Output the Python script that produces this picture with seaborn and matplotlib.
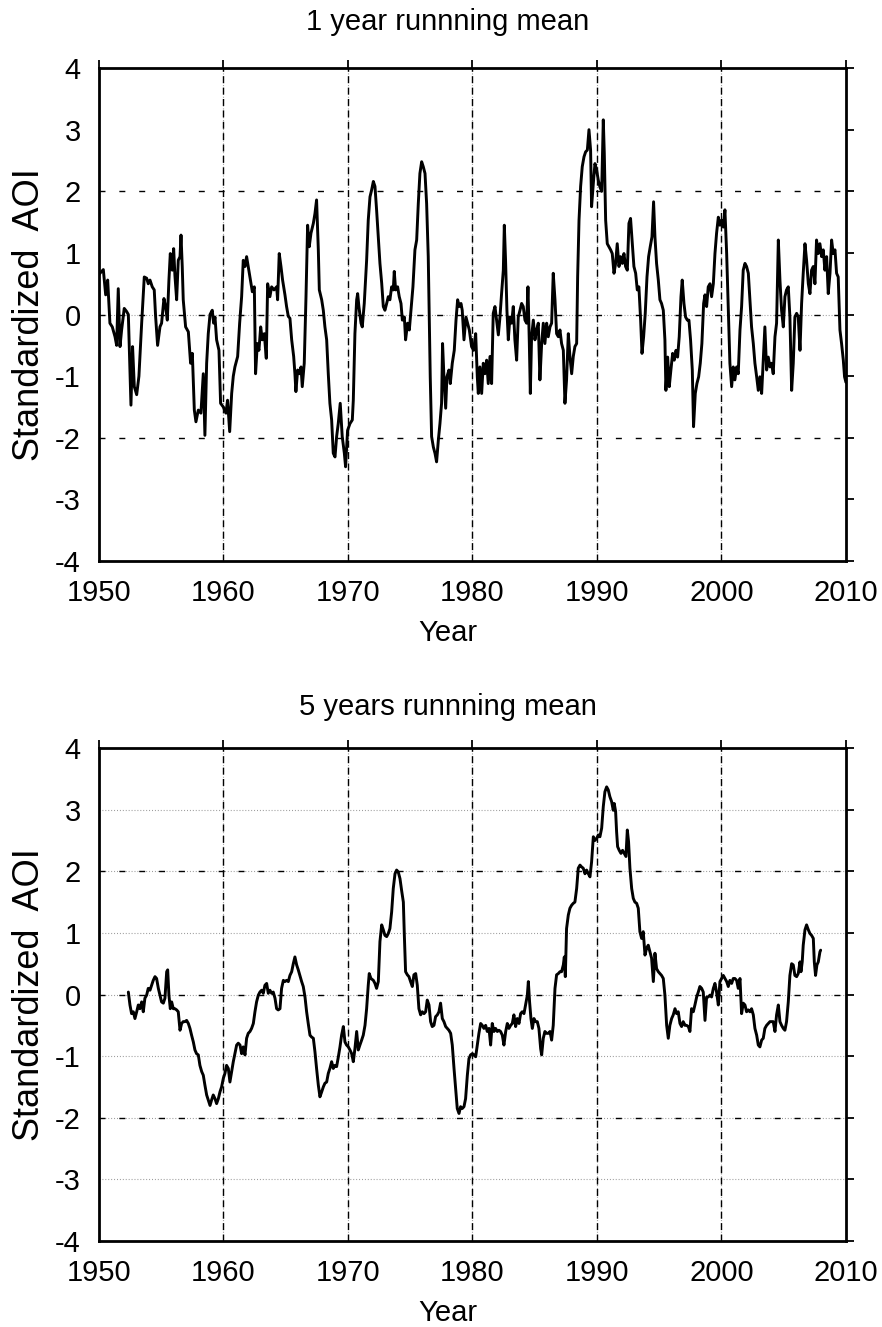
import matplotlib
matplotlib.use("Agg")
import matplotlib.pyplot as plt
import seaborn as sns

# ---------------- data ----------------
year_1yr = [
    1950.00, 1950.08, 1950.35, 1950.54, 1950.70, 1950.88, 1951.07, 1951.29, 1951.42, 1951.55,
    1951.69, 1951.82, 1952.03, 1952.22, 1952.36, 1952.49, 1952.57, 1952.70, 1952.84, 1953.03,
    1953.21, 1953.43, 1953.64, 1953.83, 1953.96, 1954.10, 1954.28, 1954.44, 1954.55, 1954.71,
    1954.90, 1955.03, 1955.22, 1955.35, 1955.49, 1955.62, 1955.73, 1955.89, 1956.00, 1956.10,
    1956.24, 1956.37, 1956.51, 1956.59, 1956.69, 1956.77, 1956.96, 1957.18, 1957.36, 1957.50,
    1957.66, 1957.79, 1957.98, 1958.19, 1958.38, 1958.51, 1958.65, 1958.78, 1958.92, 1959.10,
    1959.21, 1959.32, 1959.45, 1959.64, 1959.77, 1959.99, 1960.20, 1960.33, 1960.50, 1960.66,
    1960.79, 1960.92, 1961.14, 1961.30, 1961.46, 1961.59, 1961.73, 1961.86, 1961.99, 1962.13,
    1962.32, 1962.48, 1962.58, 1962.72, 1962.85, 1962.99, 1963.12, 1963.28, 1963.44, 1963.55,
    1963.73, 1963.87, 1964.06, 1964.27, 1964.35, 1964.48, 1964.62, 1964.75, 1964.94, 1965.07,
    1965.21, 1965.34, 1965.48, 1965.64, 1965.74, 1965.82, 1965.96, 1966.09, 1966.23, 1966.33,
    1966.49, 1966.63, 1966.76, 1966.89, 1967.03, 1967.22, 1967.35, 1967.48, 1967.62, 1967.70,
    1967.89, 1968.02, 1968.15, 1968.29, 1968.42, 1968.55, 1968.69, 1968.82, 1968.96, 1969.09,
    1969.22, 1969.38, 1969.54, 1969.71, 1969.81,
    1969.97, 1970.16, 1970.35, 1970.43, 1970.56, 1970.70, 1970.78, 1970.88, 1971.05, 1971.15,
    1971.31, 1971.50, 1971.63, 1971.77, 1971.90, 1972.04, 1972.17, 1972.30, 1972.44, 1972.57,
    1972.71, 1972.84, 1972.97, 1973.11, 1973.24, 1973.37, 1973.51, 1973.64, 1973.72, 1973.83,
    1973.99, 1974.12, 1974.26, 1974.37, 1974.53, 1974.63, 1974.79, 1974.93, 1975.06, 1975.22,
    1975.38, 1975.52, 1975.65, 1975.78, 1975.92, 1976.05, 1976.19, 1976.32, 1976.45, 1976.53,
    1976.61, 1976.72, 1976.86, 1976.99, 1977.12, 1977.26, 1977.39, 1977.52, 1977.60, 1977.71,
    1977.85, 1977.95, 1978.11, 1978.22, 1978.38, 1978.54, 1978.68, 1978.81, 1978.94, 1979.08,
    1979.18, 1979.32, 1979.48, 1979.61, 1979.75, 1979.93, 1980.09, 1980.26, 1980.39, 1980.47,
    1980.60, 1980.74, 1980.87, 1981.00, 1981.14, 1981.27, 1981.41, 1981.54, 1981.67, 1981.81,
    1981.94, 1982.08, 1982.21, 1982.34, 1982.48, 1982.56, 1982.66, 1982.77, 1982.88, 1983.01,
    1983.15, 1983.28, 1983.41, 1983.55, 1983.68, 1983.82, 1983.95, 1984.08, 1984.22, 1984.35,
    1984.46, 1984.57, 1984.65, 1984.75, 1984.89, 1985.02, 1985.15, 1985.29, 1985.42, 1985.56,
    1985.69, 1985.82, 1985.96, 1986.09, 1986.23, 1986.36, 1986.49, 1986.63, 1986.76, 1986.90,
    1987.03, 1987.16, 1987.30, 1987.43, 1987.56, 1987.70, 1987.83, 1987.97, 1988.10, 1988.23,
    1988.37, 1988.45, 1988.56, 1988.69, 1988.82, 1988.96, 1989.09, 1989.23, 1989.36, 1989.49,
    1989.57, 1989.71,
    1989.84, 1989.97, 1990.11, 1990.24, 1990.38, 1990.51, 1990.59, 1990.70, 1990.83, 1990.96,
    1991.10, 1991.23, 1991.37, 1991.50, 1991.63, 1991.77, 1991.90, 1992.04, 1992.17, 1992.30,
    1992.44, 1992.57, 1992.70, 1992.84, 1992.97, 1993.11, 1993.24, 1993.37, 1993.51, 1993.62,
    1993.75, 1993.88, 1994.02, 1994.15, 1994.28, 1994.42, 1994.55, 1994.66, 1994.79, 1994.93,
    1995.06, 1995.19, 1995.33, 1995.46, 1995.54, 1995.68, 1995.81, 1995.94, 1996.08, 1996.21,
    1996.35, 1996.48, 1996.61, 1996.75, 1996.85, 1996.99, 1997.12, 1997.26, 1997.39, 1997.52,
    1997.66, 1997.76, 1997.90, 1998.03, 1998.17, 1998.30, 1998.43, 1998.57, 1998.68, 1998.81,
    1998.94, 1999.08, 1999.21, 1999.35, 1999.48, 1999.61, 1999.75, 1999.88, 2000.01, 2000.15,
    2000.28, 2000.42, 2000.55, 2000.68, 2000.82, 2000.95, 2001.08, 2001.22, 2001.35, 2001.49,
    2001.62, 2001.75, 2001.89, 2002.02, 2002.16, 2002.29, 2002.42, 2002.56, 2002.69, 2002.83,
    2002.96, 2003.09, 2003.23, 2003.36, 2003.49, 2003.63, 2003.76, 2003.90, 2004.03, 2004.16,
    2004.30, 2004.43, 2004.57, 2004.70, 2004.83, 2004.97, 2005.10, 2005.23, 2005.37, 2005.50,
    2005.64, 2005.77, 2005.90, 2006.04, 2006.17, 2006.31, 2006.44, 2006.57, 2006.71, 2006.84,
    2006.98, 2007.11, 2007.24, 2007.38, 2007.51, 2007.64, 2007.78, 2007.91, 2008.05, 2008.18,
    2008.31, 2008.45, 2008.58, 2008.72, 2008.85, 2008.98, 2009.12, 2009.25, 2009.38, 2009.52,
    2009.65, 2009.79, 2009.89, 2010.00,
]
aoi_1yr = [
    0.65, 0.67, 0.73, 0.32, 0.56, -0.14, -0.20, -0.36, -0.50, 0.42,
    -0.52, -0.25, 0.10, 0.05, 0.00, -0.90, -1.47, -0.52, -1.17, -1.30,
    -1.00, -0.14, 0.61, 0.59, 0.50, 0.56, 0.45, 0.40, -0.03, -0.50,
    -0.20, -0.14, 0.26, 0.13, -0.09, 0.56, 0.99, 0.72, 1.07, 0.64,
    0.24, 0.88, 0.94, 1.29, 0.78, 0.24, -0.20, -0.28, -0.79, -0.63,
    -1.55, -1.74, -1.55, -1.60, -0.96, -1.96, -0.79, -0.31, 0.00, 0.07,
    -0.14, -0.04, -0.41, -0.58, -1.44, -1.50, -1.60, -1.39, -1.90, -1.28,
    -1.00, -0.85, -0.68, -0.14, 0.29, 0.88, 0.78, 0.94, 0.78, 0.61,
    0.37, 0.45, -0.96, -0.47, -0.58, -0.20, -0.41, -0.31, -0.71, 0.50,
    0.29, 0.45, 0.40, 0.45, 0.24, 0.99, 0.78, 0.56, 0.32, 0.13,
    -0.03, -0.06, -0.41, -0.68, -0.96, -1.25, -0.90, -0.96, -0.85, -1.17,
    -0.79, 0.29, 1.45, 1.10, 1.32, 1.48, 1.64, 1.86, 1.05, 0.40,
    0.24, 0.07, -0.20, -0.41, -0.96, -1.44, -1.71, -2.25, -2.31, -1.98,
    -1.77, -1.44, -1.98, -2.25, -2.47,
    -1.88, -1.77, -1.71, -1.39, -0.31, 0.24, 0.34, 0.13, -0.14, -0.20,
    0.18, 0.88, 1.53, 1.91, 2.02, 2.16, 2.08, 1.70, 1.26, 0.83,
    0.51, 0.13, 0.07, 0.18, 0.29, 0.24, 0.45, 0.40, 0.70, 0.40,
    0.45, 0.29, 0.18, -0.09, -0.04, -0.41, -0.14, -0.25, 0.07, 0.45,
    1.05, 1.21, 1.80, 2.29, 2.48, 2.40, 2.29, 1.80, 0.94, -0.04,
    -1.01, -1.98, -2.15, -2.25, -2.39, -2.04, -1.77, -1.44, -0.47, -1.01,
    -1.52, -1.01, -0.90, -1.12, -0.79, -0.58, -0.09, 0.24, 0.13, 0.18,
    0.07, -0.41, -0.04, -0.14, -0.25, -0.52, -0.58, -0.31, -1.01, -1.28,
    -0.85, -1.28, -0.79, -0.96, -0.74, -1.12, -0.68, -1.12, 0.02, 0.13,
    -0.09, -0.33, -0.04, 0.34, 0.72, 1.45, 0.88, 0.07, -0.41, -0.04,
    -0.14, 0.13, -0.41, -0.74, -0.04, 0.07, 0.18, 0.13, -0.09, -0.14,
    0.45, -0.47, -1.28, -0.36, -0.09, -0.41, -0.25, -0.14, -1.06, -0.47,
    -0.14, -0.47, -0.14, -0.36, -0.20, -0.14, 0.67, 0.24, -0.31, -0.36,
    -0.25, -0.47, -0.58, -1.44, -1.06, -0.31, -0.68, -0.96, -0.68, -0.52,
    -0.47, 0.61, 1.53, 2.08, 2.40, 2.56, 2.64, 2.67, 3.00, 2.67,
    1.75, 2.13,
    2.45, 2.35, 2.18, 2.07, 2.00, 3.16, 2.62, 1.53, 1.15, 1.10,
    1.05, 0.99, 0.67, 0.83, 1.15, 0.78, 0.94, 0.83, 0.99, 0.78,
    0.72, 1.48, 1.56, 1.15, 0.78, 0.67, 0.40, 0.45, -0.09, -0.63,
    -0.36, 0.02, 0.61, 0.94, 1.10, 1.26, 1.83, 1.26, 0.83, 0.56,
    0.24, 0.18, 0.07, -0.41, -1.23, -0.69, -1.17, -0.90, -0.63, -0.74,
    -0.58, -0.69, -0.36, 0.29, 0.56, 0.18, -0.04, -0.09, -0.09, -0.41,
    -0.90, -1.82, -1.28, -1.12, -1.01, -0.79, -0.47, 0.18, 0.32, 0.13,
    0.45, 0.50, 0.29, 0.50, 0.99, 1.32, 1.58, 1.45, 1.53, 1.42,
    1.70, 0.99, 0.07, -0.79, -1.17, -0.85, -1.06, -0.85, -0.96, -0.25,
    0.13, 0.72, 0.83, 0.78, 0.67, 0.24, -0.20, -0.47, -0.79, -1.01,
    -1.23, -1.01, -1.28, -0.74, -0.20, -0.90, -0.69, -0.85, -0.79, -0.96,
    -0.36, -0.14, 1.21, 0.56, 0.07, -0.20, 0.29, 0.40, 0.45, -0.04,
    -1.23, -0.79, -0.04, 0.02, -0.04, -0.58, 0.18, 0.67, 1.15, 0.88,
    0.50, 0.34, 0.72, 0.78, 0.50, 1.21, 0.99, 1.15, 0.94, 1.05,
    0.72, 0.94, 0.34, 0.67, 1.21, 0.99, 1.05, 0.67, 0.61, -0.25,
    -0.47, -0.74, -1.01, -1.10,
]

year_5yr = [
    1952.36, 1952.49, 1952.62, 1952.76, 1952.89, 1953.03, 1953.16, 1953.29, 1953.43, 1953.56,
    1953.69, 1953.83, 1953.96, 1954.10, 1954.23, 1954.36, 1954.50, 1954.63, 1954.77, 1954.90,
    1955.03, 1955.17, 1955.30, 1955.44, 1955.52, 1955.62, 1955.73, 1955.84, 1955.97, 1956.10,
    1956.24, 1956.37, 1956.51, 1956.64, 1956.77, 1956.91, 1957.04, 1957.18, 1957.31, 1957.44,
    1957.58, 1957.71, 1957.84, 1957.98, 1958.11, 1958.25, 1958.38, 1958.51, 1958.65, 1958.78,
    1958.92, 1959.05, 1959.18, 1959.32, 1959.45, 1959.59, 1959.72, 1959.85, 1959.99, 1960.12,
    1960.25, 1960.39, 1960.52, 1960.66, 1960.79, 1960.92, 1961.06, 1961.19, 1961.33, 1961.46,
    1961.59, 1961.73, 1961.86, 1961.99, 1962.13, 1962.26, 1962.40, 1962.53, 1962.66, 1962.80,
    1962.93, 1963.07, 1963.20, 1963.33, 1963.47, 1963.60, 1963.73, 1963.87, 1964.00, 1964.14,
    1964.27, 1964.40, 1964.54, 1964.67, 1964.81, 1964.94, 1965.07, 1965.21, 1965.34, 1965.48,
    1965.61, 1965.74, 1965.88, 1966.01, 1966.14, 1966.28, 1966.41, 1966.55, 1966.68, 1966.81,
    1966.95, 1967.08, 1967.22, 1967.35, 1967.48, 1967.62, 1967.75, 1967.89, 1968.02, 1968.15,
    1968.29, 1968.42, 1968.55, 1968.69, 1968.82, 1968.96, 1969.09, 1969.23, 1969.36, 1969.49,
    1969.63,
    1969.76, 1969.89, 1970.03, 1970.16, 1970.30, 1970.43, 1970.56, 1970.70, 1970.83, 1970.96,
    1971.10, 1971.23, 1971.37, 1971.50, 1971.63, 1971.71, 1971.85, 1972.04, 1972.17, 1972.30,
    1972.44, 1972.57, 1972.71, 1972.84, 1972.97, 1973.11, 1973.24, 1973.37, 1973.51, 1973.64,
    1973.78, 1973.91, 1974.04, 1974.18, 1974.31, 1974.45, 1974.53, 1974.63, 1974.77, 1974.90,
    1975.03, 1975.17, 1975.30, 1975.44, 1975.57, 1975.70, 1975.84, 1975.97, 1976.11, 1976.24,
    1976.37, 1976.51, 1976.64, 1976.77, 1976.91, 1977.04, 1977.18, 1977.31, 1977.44, 1977.58,
    1977.71, 1977.85, 1977.98, 1978.11, 1978.25, 1978.38, 1978.52, 1978.65, 1978.78, 1978.92,
    1979.05, 1979.18, 1979.32, 1979.45, 1979.59, 1979.72, 1979.85, 1979.99, 1980.12, 1980.26,
    1980.39, 1980.52, 1980.66, 1980.79, 1980.92, 1981.06, 1981.19, 1981.33, 1981.46, 1981.59,
    1981.73, 1981.86, 1982.00, 1982.13, 1982.26, 1982.40, 1982.53, 1982.67, 1982.80, 1982.93,
    1983.07, 1983.20, 1983.33, 1983.47, 1983.60, 1983.74, 1983.87, 1984.00, 1984.14, 1984.27,
    1984.41, 1984.49, 1984.59, 1984.70, 1984.81, 1984.94, 1985.07, 1985.21, 1985.34, 1985.48,
    1985.56, 1985.69, 1985.82, 1985.96, 1986.09, 1986.23, 1986.36, 1986.49, 1986.63, 1986.76,
    1986.90, 1987.03, 1987.16, 1987.30, 1987.38, 1987.46, 1987.56, 1987.70, 1987.83, 1987.97,
    1988.10, 1988.23, 1988.37, 1988.50, 1988.64, 1988.77, 1988.90, 1989.04, 1989.17, 1989.31,
    1989.44, 1989.57, 1989.71,
    1989.84, 1989.97, 1990.11, 1990.24, 1990.38, 1990.51, 1990.64, 1990.78, 1990.91, 1991.04,
    1991.18, 1991.31, 1991.39, 1991.50, 1991.58, 1991.66, 1991.79, 1991.93, 1992.06, 1992.20,
    1992.33, 1992.44, 1992.54, 1992.65, 1992.79, 1992.92, 1993.05, 1993.19, 1993.32, 1993.45,
    1993.59, 1993.72, 1993.86, 1993.99, 1994.12, 1994.26, 1994.39, 1994.53, 1994.66, 1994.79,
    1994.93, 1995.06, 1995.19, 1995.33, 1995.46, 1995.60, 1995.73, 1995.86, 1996.00, 1996.13,
    1996.27, 1996.40, 1996.53, 1996.67, 1996.80, 1996.93, 1997.07, 1997.20, 1997.34, 1997.47,
    1997.60, 1997.74, 1997.87, 1998.01, 1998.14, 1998.27, 1998.41, 1998.54, 1998.68, 1998.81,
    1998.94, 1999.08, 1999.21, 1999.35, 1999.48, 1999.61, 1999.75, 1999.88, 2000.01, 2000.15,
    2000.28, 2000.42, 2000.55, 2000.68, 2000.82, 2000.95, 2001.08, 2001.22, 2001.35, 2001.49,
    2001.62, 2001.75, 2001.89, 2002.02, 2002.16, 2002.29, 2002.42, 2002.56, 2002.69, 2002.83,
    2002.96, 2003.09, 2003.23, 2003.36, 2003.49, 2003.63, 2003.76, 2003.90, 2004.03, 2004.16,
    2004.30, 2004.43, 2004.57, 2004.70, 2004.83, 2004.97, 2005.10, 2005.23, 2005.37, 2005.50,
    2005.64, 2005.77, 2005.90, 2006.04, 2006.17, 2006.31, 2006.39, 2006.49, 2006.57, 2006.71,
    2006.84, 2006.98, 2007.11, 2007.24, 2007.38, 2007.46, 2007.56, 2007.67, 2007.78, 2007.91,
    2007.97,
]
aoi_5yr = [
    0.04, -0.17, -0.31, -0.28, -0.39, -0.28, -0.17, -0.23, -0.12, -0.28,
    -0.06, -0.01, 0.10, 0.07, 0.15, 0.23, 0.29, 0.26, 0.10, -0.01,
    -0.12, -0.14, -0.06, 0.37, 0.40, -0.01, -0.23, -0.12, -0.23, -0.23,
    -0.25, -0.28, -0.58, -0.47, -0.44, -0.44, -0.42, -0.47, -0.55, -0.66,
    -0.77, -0.90, -0.96, -0.98, -1.15, -1.25, -1.31, -1.47, -1.63, -1.71,
    -1.80, -1.71, -1.63, -1.69, -1.77, -1.69, -1.58, -1.50, -1.36, -1.28,
    -1.15, -1.20, -1.42, -1.25, -1.09, -0.96, -0.82, -0.79, -0.82, -0.96,
    -0.85, -0.98, -0.71, -0.63, -0.60, -0.55, -0.47, -0.28, -0.12, -0.01,
    0.04, 0.07, 0.02, 0.15, 0.18, 0.02, 0.07, 0.02, 0.04, -0.06,
    -0.23, -0.25, -0.23, 0.10, 0.23, 0.21, 0.23, 0.21, 0.31, 0.37,
    0.50, 0.61, 0.48, 0.40, 0.31, 0.21, 0.13, -0.04, -0.28, -0.47,
    -0.66, -0.69, -0.71, -0.93, -1.20, -1.47, -1.66, -1.58, -1.50, -1.44,
    -1.42, -1.28, -1.20, -1.09, -1.20, -1.15, -1.17, -1.01, -0.85, -0.66,
    -0.52,
    -0.77, -0.82, -0.85, -0.90, -0.96, -1.09, -0.88, -0.60, -0.90, -0.82,
    -0.74, -0.66, -0.50, -0.23, 0.15, 0.34, 0.26, 0.23, 0.18, 0.10,
    0.21, 0.86, 1.13, 1.05, 0.96, 0.94, 0.99, 1.07, 1.34, 1.72,
    1.96, 2.02, 1.99, 1.88, 1.69, 1.50, 0.96, 0.37, 0.32, 0.29,
    0.21, 0.13, 0.32, 0.34, 0.15, -0.23, -0.33, -0.28, -0.31, -0.28,
    -0.09, -0.17, -0.44, -0.52, -0.50, -0.36, -0.33, -0.28, -0.14, -0.39,
    -0.44, -0.52, -0.55, -0.58, -0.63, -0.82, -1.20, -1.52, -1.85, -1.93,
    -1.82, -1.85, -1.82, -1.69, -1.31, -1.04, -0.98, -0.96, -0.98, -1.01,
    -0.82, -0.63, -0.47, -0.50, -0.55, -0.50, -0.60, -0.55, -0.82, -0.47,
    -0.60, -0.55, -0.60, -0.58, -0.60, -0.66, -0.82, -0.60, -0.47, -0.55,
    -0.50, -0.47, -0.33, -0.52, -0.39, -0.47, -0.31, -0.28, -0.31, -0.17,
    -0.01, 0.21, -0.12, -0.39, -0.55, -0.39, -0.44, -0.44, -0.55, -0.88,
    -0.98, -0.71, -0.60, -0.63, -0.63, -0.60, -0.74, -0.50, 0.10, 0.32,
    0.34, 0.37, 0.37, 0.48, 0.61, 0.29, 1.07, 1.29, 1.40, 1.45,
    1.48, 1.50, 1.72, 2.05, 2.10, 2.07, 2.05, 1.96, 2.02, 1.96,
    1.91, 2.15, 2.56,
    2.50, 2.53, 2.59, 2.56, 2.70, 3.05, 3.29, 3.37, 3.32, 3.21,
    3.13, 2.99, 3.10, 2.97, 2.64, 2.40, 2.34, 2.29, 2.34, 2.29,
    2.24, 2.67, 2.48, 2.05, 1.72, 1.56, 1.50, 1.48, 1.40, 1.02,
    0.91, 1.02, 0.64, 0.75, 0.80, 0.69, 0.59, 0.21, 0.67, 0.42,
    0.37, 0.34, 0.31, 0.26, -0.01, -0.50, -0.71, -0.50, -0.39, -0.33,
    -0.23, -0.31, -0.28, -0.47, -0.52, -0.44, -0.50, -0.50, -0.52, -0.60,
    -0.23, -0.28, -0.17, -0.04, 0.04, 0.13, 0.10, 0.04, -0.42, -0.04,
    -0.04, -0.01, -0.04, 0.10, 0.18, 0.04, -0.17, 0.21, 0.26, 0.31,
    0.26, 0.21, 0.13, 0.23, 0.18, 0.26, 0.26, 0.23, 0.10, 0.26,
    -0.31, -0.14, -0.17, -0.28, -0.25, -0.28, -0.23, -0.33, -0.55, -0.66,
    -0.82, -0.85, -0.74, -0.71, -0.55, -0.50, -0.47, -0.44, -0.44, -0.44,
    -0.60, -0.33, -0.17, -0.44, -0.50, -0.55, -0.58, -0.44, -0.12, 0.31,
    0.50, 0.48, 0.31, 0.29, 0.34, 0.53, 0.37, 0.53, 0.80, 1.05,
    1.13, 1.05, 0.99, 0.96, 0.91, 0.53, 0.31, 0.48, 0.53, 0.69,
    0.72,
]

titles = ["1 year runnning mean", "5 years runnning mean"]
x_label = "Year"
y_label = "Standardized  AOI"
x_ticks = [1950, 1960, 1970, 1980, 1990, 2000, 2010]
y_ticks = [-4, -3, -2, -1, 0, 1, 2, 3, 4]
major_h = [-2, 0, 2]
dotted_h_top = [0]
dotted_h_bottom = [-3, -2, -1, 0, 1, 2, 3]

# ---------------- style ----------------
sns.set_theme(style="white")
plt.rcParams["font.family"] = ["Liberation Sans", "DejaVu Sans"]
plt.rcParams["axes.unicode_minus"] = False
plt.rcParams["lines.scale_dashes"] = False

FS = 21
FS_Y = 26
fig = plt.figure(figsize=(8.82, 13.27), dpi=100)
ax1 = fig.add_axes([0.1122, 0.5772, 0.8469, 0.3715])
ax2 = fig.add_axes([0.1122, 0.0648, 0.8469, 0.3715])

dash_v = (0, (5.0, 3.2))
dash_h = (0, (4.3, 10.0))
dot = (0, (0.7, 1.4))

label_x_axes = (448 - 99) / 747.0


def style_axes(ax, dotted_h):
    ax.set_xlim(1950, 2010)
    ax.set_ylim(-4, 4)
    ax.set_xticks(x_ticks)
    ax.set_yticks(y_ticks)
    ax.tick_params(axis="both", which="major", direction="out", length=6,
                   width=1.3, top=True, right=True, labelsize=FS, pad=7,
                   colors="black", labeltop=False, labelright=False)
    for sp in ax.spines.values():
        sp.set_visible(True)
        sp.set_color("black")
        sp.set_linewidth(2.0)
    for xv in x_ticks[1:-1]:
        ax.axvline(xv, color="#999999", lw=0.8, ls=dot, zorder=0.5)
        ax.axvline(xv, color="black", lw=1.0, ls=dash_v, zorder=0.6)
    for yv in dotted_h:
        ax.axhline(yv, color="#999999", lw=0.8, ls=dot, zorder=0.5)
    for yv in major_h:
        ax.axhline(yv, color="black", lw=1.0, ls=dash_h, zorder=0.6)
    ax.set_xlabel(x_label, fontsize=FS, color="black")
    ax.set_ylabel(y_label, fontsize=FS_Y, color="black")
    ax.xaxis.set_label_coords(label_x_axes, -0.146)
    ax.xaxis.label.set_va("center")
    ax.yaxis.set_label_coords(-0.0924, 0.5)
    ax.yaxis.label.set_va("center")
    ax.set_facecolor("white")


sns.lineplot(x=year_1yr, y=aoi_1yr, ax=ax1, color="black", linewidth=2.1,
             estimator=None, sort=False, zorder=3)
sns.lineplot(x=year_5yr, y=aoi_5yr, ax=ax2, color="black", linewidth=2.1,
             estimator=None, sort=False, zorder=3)

style_axes(ax1, dotted_h_top)
style_axes(ax2, dotted_h_bottom)

xc = 448 / 882.0
fig.text(xc, 1 - 22 / 1327, titles[0], ha="center", va="center", fontsize=FS, color="black")
fig.text(xc, 1 - 707 / 1327, titles[1], ha="center", va="center", fontsize=FS, color="black")

fig.savefig("out.png", dpi=100, facecolor="white")
